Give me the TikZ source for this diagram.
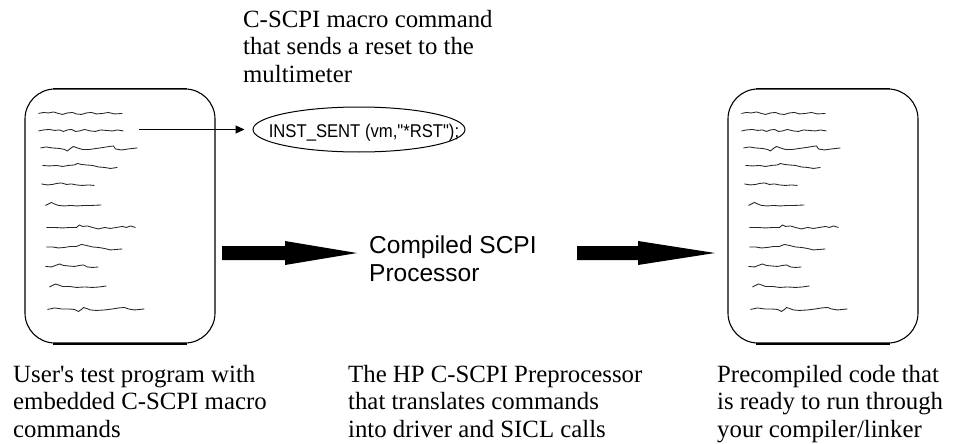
\documentclass[tikz,border=0pt]{standalone}
\usepackage{fontspec}
\setmainfont{Liberation Serif}[Ligatures=TeXOff]
\newfontfamily\arialf{Liberation Sans}[Ligatures=TeXOff]
\newfontfamily\arialn{Liberation Sans}[Ligatures=TeXOff, FakeStretch=0.9]
\usetikzlibrary{shapes.geometric,arrows.meta,calc}
\tikzset{
  serifcap/.style={font=\fontsize{24.8pt}{27.4pt}\selectfont, align=left, inner sep=0pt, anchor=north west},
  sanscap/.style={font=\arialf\fontsize{24.5pt}{28.5pt}\selectfont, align=left, inner sep=0pt, anchor=north west},
  docbox/.style={draw, line width=1.1pt, rounded corners=30pt, minimum width=190pt, minimum height=254pt, inner sep=0pt},
  scrib/.style={line width=0.85pt, black!85, line join=round},
  thickarrow/.style={fill=black},
  pics/scribbles/.style={code={
    \draw[scrib] (14,25)--(19,24)--(24,24.5)--(29,23.5)--(34,25)--(38,26)--(43,24.5)--(48,24)--(52,25.5)--(57,26)--(62,24.5)--(67,24)--(72,25.5)--(78,25)--(84,24)--(90,25.5)--(98,25);
    \draw[scrib] (14,42.5)--(19,41.5)--(25,41)--(30,42)--(35,41.5)--(39,43)--(43,41.5)--(47,41)--(51,43)--(55,42.5)--(60,41)--(66,42.5)--(71,43)--(76,41.5)--(82,42)--(88,42.5)--(93,41.5)--(99,42.5);
    \draw[scrib] (16,59.5)--(22,58.5)--(28,59.5)--(35,60)--(40,61)--(43,62.5)--(46,60)--(49,58)--(53,59.5)--(58,61)--(65,61)--(72,60)--(79,59)--(85,58)--(89,57.5)--(91,60.5)--(97,61.5)--(104,60.5)--(113,59.5);
    \draw[scrib] (18,77)--(25,77.5)--(32,77)--(38,78)--(44,77)--(50,76.5)--(53,75)--(57,76)--(62,76.5)--(68,77)--(74,78.5)--(80,79)--(86,80)--(93,79);
    \draw[scrib] (17,95.5)--(23,96.5)--(28,96)--(32,95)--(37,94.5)--(42,96)--(47,95.5)--(52,96.5)--(58,97)--(64,96.5)--(70,97);
    \draw[scrib] (21,117)--(24,115.5)--(27,114)--(30,115.5)--(34,117)--(40,117.5)--(46,117)--(53,117.5)--(60,117)--(67,117)--(77,116.5);
    \draw[scrib] (22,139)--(30,139)--(38,139.5)--(46,139)--(52,139)--(55,136.5)--(58,138)--(63,137.5)--(68,139)--(74,140.5)--(80,139)--(86,140)--(92,139)--(98,138)--(102,139)--(106,137.5)--(111,139);
    \draw[scrib] (22,158.5)--(28,158.5)--(34,159.5)--(40,159)--(46,158)--(52,158)--(57,156)--(62,157)--(68,158.5)--(74,159)--(80,160)--(86,161.5)--(92,161)--(98,160.5);
    \draw[scrib] (21,178)--(27,178.5)--(31,177)--(35,175.5)--(39,177)--(44,177.5)--(50,178)--(55,177)--(59,176.5)--(63,178.5)--(68,179)--(74,178.5);
    \draw[scrib] (25,198.5)--(28,197)--(31,195.5)--(34,196.5)--(38,198)--(45,198)--(52,199)--(60,198.5)--(68,199)--(75,198.5)--(82,197.5);
    \draw[scrib] (23,221)--(30,219.5)--(37,220.5)--(44,220.5)--(50,221)--(54,223)--(57,221)--(59,219)--(62,220)--(66,221.5)--(72,222)--(80,221.5)--(88,220.5)--(94,219.5)--(100,219)--(104,220.5)--(110,221.5)--(115,221)--(120,220.5);
  }}
}
\begin{document}
\begin{tikzpicture}[x=1pt,y=-1pt]
\useasboundingbox (0,0) rectangle (953,444);
% document boxes
\node[docbox] (docL) at (120,216) {};
\node[docbox] (docR) at (823,216) {};
\foreach \b in {docL,docR}{
  \draw[line width=1.9pt] ([xshift=29pt]\b.north west) -- ([xshift=-29pt]\b.north east);
  \draw[line width=1.9pt] ([xshift=29pt]\b.south west) -- ([xshift=-29pt]\b.south east);
}
\pic at (docL.north west) {scribbles};
\pic at (docR.north west) {scribbles};
% macro ellipse
\node[ellipse, draw, line width=1pt, minimum width=212pt, minimum height=45pt, inner sep=0pt] (inst) at (359,129.5) {};
\node[font=\arialn\fontsize{18.5pt}{22pt}\selectfont, anchor=base, inner sep=0pt] (instlabel) at (364,137.5) {INST\_SENT (vm,"*RST");};
\coordinate (src) at (139,129.5);
\draw[line width=1.3pt, -{Triangle[length=9pt,width=8pt]}, shorten >=8pt] (src) -- (src -| inst.west);
% texts
\node[serifcap] (topcap) at (243,10) {C-SCPI macro command\\that sends a reset to the\\multimeter};
\node[sanscap] (proc) at (369,235.5) {Compiled SCPI\\Processor};
\node[serifcap] (capL) at (13,365) {User's test program with\\embedded C-SCPI macro\\commands};
\node[serifcap] (capM) at (348,365) {The HP C-SCPI Preprocessor\\that translates commands\\into driver and SICL calls};
\node[serifcap] (capR) at (717,365) {Precompiled code that\\is ready to run through\\your compiler/linker};
% thick arrows
\coordinate (a1s) at (222,253);
\coordinate (a1e) at (357,253);
\coordinate (a2s) at (577,253);
\coordinate (a2e) at (715,253);
\fill[thickarrow] (a1s) ++(0,-7) -- ++(63,0) -- ++(0,-5) -- (a1e) -- ++(-72,12) -- ++(0,-5) -- ++(-63,0) -- cycle;
\fill[thickarrow] (a2s) ++(0,-7) -- ++(61,0) -- ++(0,-5) -- (a2e) -- ++(-77,12) -- ++(0,-5) -- ++(-61,0) -- cycle;
\end{tikzpicture}
\end{document}
